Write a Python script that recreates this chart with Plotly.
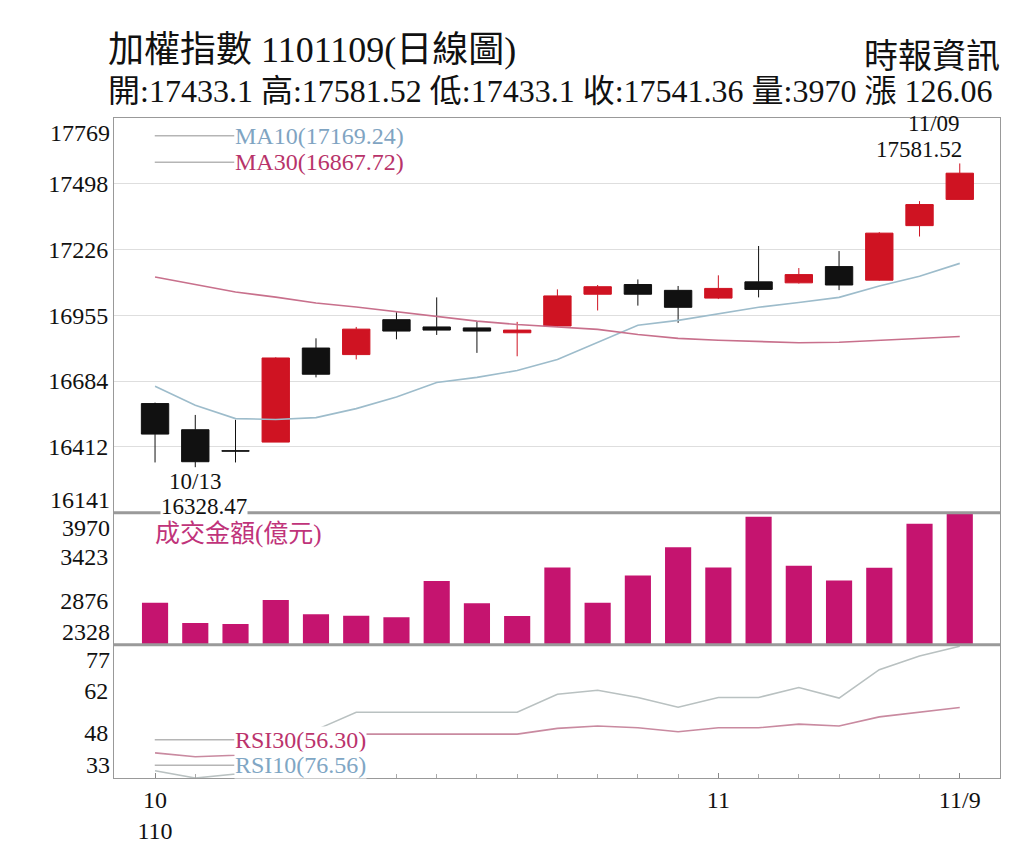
import plotly.graph_objects as go
from plotly.subplots import make_subplots

# 21 trading days, 110/10/12 .. 110/11/09
days = list(range(21))
x_tickvals = [0, 14, 20]
x_ticktext = ["10<br>110", "11", "11/9"]

opens = [16591, 16483, 16396, 16432, 16820, 16793, 16937, 16907, 16903, 16883, 16911,
         17042, 17082, 17058, 17026, 17093, 17089, 17156, 17100, 17325, 17433.1]
highs = [16595, 16544, 16524, 16782, 16860, 16907, 16968, 17029, 16928, 16928, 17062,
         17080, 17103, 17076, 17120, 17241, 17150, 17220, 17298, 17426, 17581.52]
lows = [16348, 16328.47, 16348, 16432, 16699, 16773, 16856, 16874, 16800, 16786, 16908,
        16975, 16995, 16924, 17022, 17029, 17086, 17059, 17098, 17280, 17433.1]
closes = [16465, 16351, 16395, 16779, 16712, 16898, 16890, 16894, 16890, 16894, 17035,
          17073, 17042, 16988, 17066, 17062, 17123, 17080, 17294, 17412, 17541.36]

ma10 = [16662, 16584, 16529, 16525, 16533, 16570, 16618, 16678, 16699, 16727, 16773,
        16842, 16914, 16934, 16961, 16988, 17008, 17029, 17076, 17116, 17169.24]
ma30 = [17113, 17082, 17051, 17030, 17006, 16989, 16969, 16949, 16931, 16917, 16907,
        16897, 16876, 16860, 16852, 16846, 16842, 16844, 16852, 16860, 16867.72]

volume = [2851, 2599, 2587, 2884, 2709, 2689, 2669, 3122, 2843, 2685, 3289,
          2851, 3188, 3540, 3289, 3918, 3309, 3127, 3285, 3832, 3970]

rsi10 = [35.4, 33.0, 34.3, 40.8, 48.9, 54.7, 54.7, 54.7, 54.7, 54.7, 60.7,
         62.0, 59.6, 56.4, 59.6, 59.6, 62.9, 59.4, 68.8, 73.3, 76.56]
rsi30 = [41.3, 40.0, 40.5, 44.0, 46.6, 47.5, 47.5, 47.5, 47.5, 47.5, 49.4,
         50.2, 49.6, 48.3, 49.6, 49.6, 50.8, 50.2, 53.2, 54.8, 56.30]

price_ticks = [17769, 17498, 17226, 16955, 16684, 16412, 16141]
vol_ticks = [3970, 3423, 2876, 2328]
rsi_ticks = [77, 62, 48, 33]

RED = "#cf1322"
BLACK = "#111111"
MAG = "#c5146f"
FONT = "Liberation Serif, Noto Sans CJK TC, serif"
TICKFONT = dict(size=24, color="#111", family=FONT)

fig = make_subplots(rows=3, cols=1, shared_xaxes=True, vertical_spacing=0,
                    row_heights=[403, 135, 136])

fig.add_trace(go.Candlestick(
    x=days, open=opens, high=highs, low=lows, close=closes,
    increasing=dict(line=dict(color=RED, width=1), fillcolor=RED),
    decreasing=dict(line=dict(color=BLACK, width=1), fillcolor=BLACK),
    whiskerwidth=0, showlegend=False), row=1, col=1)
fig.add_trace(go.Scatter(x=days, y=ma10, mode="lines", line=dict(color="#9dbccb", width=1.6),
                         showlegend=False), row=1, col=1)
fig.add_trace(go.Scatter(x=days, y=ma30, mode="lines", line=dict(color="#c8708c", width=1.6),
                         showlegend=False), row=1, col=1)

fig.add_trace(go.Bar(x=days, y=volume, marker=dict(color=MAG, line=dict(width=0)),
                     width=0.65, showlegend=False), row=2, col=1)

fig.add_trace(go.Scatter(x=days, y=rsi10, mode="lines", line=dict(color="#b9c1c1", width=1.6),
                         showlegend=False), row=3, col=1)
fig.add_trace(go.Scatter(x=days, y=rsi30, mode="lines", line=dict(color="#c98aa0", width=1.6),
                         showlegend=False), row=3, col=1)

fig.update_xaxes(range=[-1.02, 21.0], showgrid=False, zeroline=False, showline=True,
                 mirror=True, linecolor="#999", rangeslider_visible=False, ticks="")
fig.update_xaxes(row=3, col=1, tickmode="array", tickvals=x_tickvals, ticktext=x_ticktext,
                 ticks="inside", ticklen=5, tickcolor="#888",
                 minor=dict(tickmode="array", tickvals=days, ticks="inside", ticklen=4,
                            tickcolor="#aaa"),
                 tickfont=TICKFONT)

yax = dict(showline=True, mirror=True, linecolor="#999", zeroline=False, ticks="",
           tickfont=TICKFONT, tickmode="array")
fig.update_yaxes(row=1, col=1, range=[price_ticks[-1], price_ticks[0]],
                 tickvals=price_ticks[1:-1], ticktext=[str(v) for v in price_ticks[1:-1]],
                 showgrid=True, gridcolor="#dedede", **yax)
fig.update_yaxes(row=2, col=1, range=[vol_ticks[-1], vol_ticks[0]],
                 tickvals=vol_ticks[1:-1], ticktext=[str(v) for v in vol_ticks[1:-1]],
                 showgrid=False, **yax)
fig.update_yaxes(row=3, col=1, range=[rsi_ticks[-1], rsi_ticks[0]],
                 tickvals=rsi_ticks[1:-1], ticktext=[str(v) for v in rsi_ticks[1:-1]],
                 showgrid=False, **yax)

# thick gray separators between panels
for yref in ["y domain", "y2 domain"]:
    fig.add_shape(type="line", xref="x domain", yref=yref, x0=0, x1=1, y0=0, y1=0,
                  line=dict(color="#9a9a9a", width=3))

annots = []
# end tick labels, nudged inside the panel like the original
for yref, top, bottom in [("y", price_ticks[0], price_ticks[-1]),
                          ("y2", vol_ticks[0], vol_ticks[-1]),
                          ("y3", rsi_ticks[0], rsi_ticks[-1])]:
    annots.append(dict(xref="paper", x=0, xanchor="right", xshift=-2, yref=yref, y=top,
                       yshift=-15, text=str(top), showarrow=False, font=TICKFONT))
    annots.append(dict(xref="paper", x=0, xanchor="right", xshift=-2, yref=yref, y=bottom,
                       yshift=13, text=str(bottom), showarrow=False, font=TICKFONT))

# titles
annots.append(dict(xref="paper", yref="paper", x=0, y=1, yshift=68, xshift=-8,
                   xanchor="left", yanchor="middle",
                   text="加權指數 1101109(日線圖)", showarrow=False,
                   font=dict(size=36, color="#111", family=FONT)))
annots.append(dict(xref="paper", yref="paper", x=0, y=1, yshift=27, xshift=-8,
                   xanchor="left", yanchor="middle",
                   text="開:17433.1 高:17581.52 低:17433.1 收:17541.36 量:3970 漲 126.06",
                   showarrow=False, font=dict(size=32, color="#111", family=FONT)))
annots.append(dict(xref="paper", yref="paper", x=1, y=1, yshift=62, xshift=2,
                   xanchor="right", yanchor="middle", text="時報資訊", showarrow=False,
                   font=dict(size=34, color="#111", family=FONT)))

# high / low callouts
annots.append(dict(xref="x", yref="y", x=20, y=highs[20], xanchor="right", yanchor="middle",
                   xshift=4, yshift=14, text="17581.52", showarrow=False,
                   font=dict(size=23, color="#111", family=FONT)))
annots.append(dict(xref="x", yref="y", x=20, y=highs[20], xanchor="right", yanchor="middle",
                   xshift=2, yshift=40, text="11/09", showarrow=False,
                   font=dict(size=23, color="#111", family=FONT)))
annots.append(dict(xref="x", yref="y", x=1, y=lows[1], xanchor="center", yanchor="middle",
                   yshift=-14, text="10/13", showarrow=False,
                   font=dict(size=23, color="#111", family=FONT)))
annots.append(dict(xref="x", yref="y", x=1, y=lows[1], xanchor="center", yanchor="middle",
                   xshift=9, yshift=-39, text="16328.47", showarrow=False, bgcolor="white",
                   borderpad=0, font=dict(size=23, color="#111", family=FONT)))

# in-panel legends
def legend_item(yref, ypos, text, color):
    fig.add_shape(type="line", xref="x domain", yref=yref, x0=0.046, x1=0.136,
                  y0=ypos, y1=ypos, line=dict(color="#b5b5b5", width=1.5))
    annots.append(dict(xref="x domain", yref=yref, x=0.136, y=ypos, xanchor="left",
                       yanchor="middle", text=text, showarrow=False, bgcolor="white",
                       borderpad=0, font=dict(size=24, color=color, family=FONT)))

legend_item("y domain", 0.955, "MA10(17169.24)", "#7fa4c2")
legend_item("y domain", 0.888, "MA30(16867.72)", "#b8336a")
legend_item("y3 domain", 0.287, "RSI30(56.30)", "#bb336c")
legend_item("y3 domain", 0.096, "RSI10(76.56)", "#80a6c4")

annots.append(dict(xref="x domain", yref="y2 domain", x=0.044, y=0.84, xanchor="left",
                   yanchor="middle", text="成交金額(億元)", showarrow=False,
                   font=dict(size=25, color="#c0337a", family=FONT)))

fig.update_layout(width=1024, height=848, margin=dict(l=106, r=32, t=110, b=64),
                  plot_bgcolor="white", paper_bgcolor="white",
                  boxgap=0.32, boxgroupgap=0,
                  font=dict(family=FONT, color="#111"), annotations=annots,
                  bargap=0.35, hovermode=False)

fig.write_html("out.html")
